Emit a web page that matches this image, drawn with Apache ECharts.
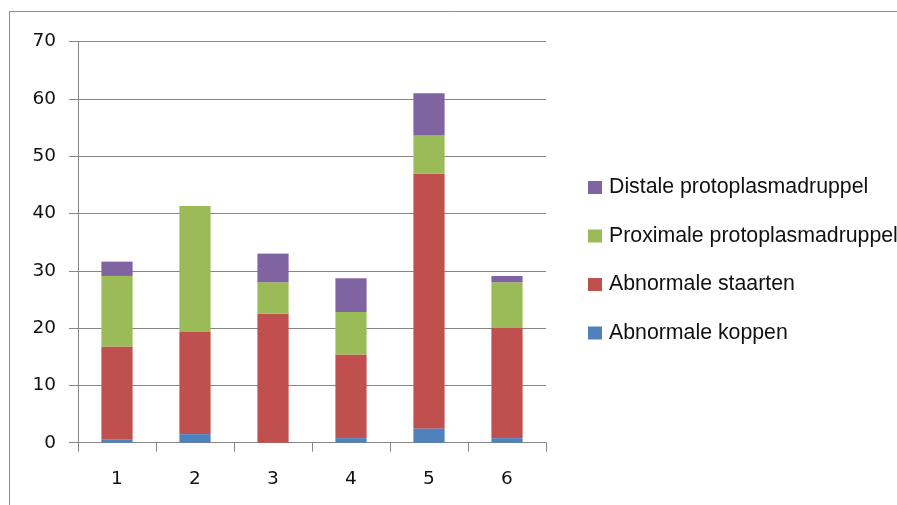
<!DOCTYPE html>
<html>
<head>
<meta charset="utf-8">
<style>
  html, body { margin: 0; padding: 0; background: #fff; }
  #chart { width: 897px; height: 505px; }
</style>
<script src="https://cdn.jsdelivr.net/npm/echarts@6/dist/echarts.min.js"></script>
</head>
<body>
<div id="chart"></div>
<script>
// Sample groups 1..6 and the share of each defect type
const categories = ['1', '2', '3', '4', '5', '6'];
const koppen = [0.5, 1.5, 0, 0.8, 2.5, 0.8];
const staarten = [16.3, 17.8, 22.5, 14.6, 44.5, 19.2];
const proximale = [12.3, 22.0, 5.5, 7.4, 6.6, 8.0];
const distale = [2.5, 0, 5.0, 5.9, 7.4, 1.1];
const yTicks = { min: 0, max: 70, interval: 10 };

const names = {
  koppen: 'Abnormale koppen',
  staarten: 'Abnormale staarten',
  proximale: 'Proximale protoplasmadruppel',
  distale: 'Distale protoplasmadruppel'
};

const gridColor = '#868686';
const chart = echarts.init(document.getElementById('chart'), null, { renderer: 'canvas' });

function bar(name, data, color) {
  return {
    name: name,
    type: 'bar',
    stack: 'total',
    barWidth: '40%',
    data: data,
    itemStyle: { color: color },
    emphasis: { disabled: true }
  };
}

const axisFont = {
  fontFamily: 'DejaVu Sans, Verdana, sans-serif',
  fontSize: 18.5,
  color: '#111'
};

chart.setOption({
  animation: false,
  graphic: [{
    type: 'rect',
    shape: { x: 9.5, y: 11.5, width: 1000, height: 600 },
    style: { fill: 'none', stroke: '#8c8c8c', lineWidth: 1 },
    silent: true
  }],
  grid: { left: 78, right: 351, top: 41.6, bottom: 62.3, containLabel: false },
  legend: {
    orient: 'vertical',
    left: 588,
    top: 177,
    padding: 0,
    itemWidth: 14,
    itemHeight: 13,
    itemGap: 27.5,
    icon: 'rect',
    selectedMode: false,
    textStyle: {
      fontFamily: 'Liberation Sans, Arial, sans-serif',
      fontSize: 21.3,
      color: '#111',
      lineHeight: 21,
      padding: [0, 0, 0, 2]
    },
    data: [names.distale, names.proximale, names.staarten, names.koppen]
  },
  xAxis: {
    type: 'category',
    data: categories,
    boundaryGap: true,
    axisLine: { lineStyle: { color: gridColor, width: 1 } },
    axisTick: { show: true, length: 9, inside: false, lineStyle: { color: gridColor } },
    axisLabel: Object.assign({ margin: 27 }, axisFont),
    splitLine: { show: false }
  },
  yAxis: {
    type: 'value',
    min: yTicks.min,
    max: yTicks.max,
    interval: yTicks.interval,
    axisLine: { show: true, lineStyle: { color: gridColor, width: 1 } },
    axisTick: { show: true, length: 9, lineStyle: { color: gridColor } },
    axisLabel: Object.assign({ margin: 22 }, axisFont),
    splitLine: { show: true, lineStyle: { color: gridColor, width: 1 } }
  },
  series: [
    bar(names.koppen, koppen, '#4F81BD'),
    bar(names.staarten, staarten, '#C0504D'),
    bar(names.proximale, proximale, '#9BBB59'),
    bar(names.distale, distale, '#8064A2')
  ]
});
</script>
</body>
</html>
